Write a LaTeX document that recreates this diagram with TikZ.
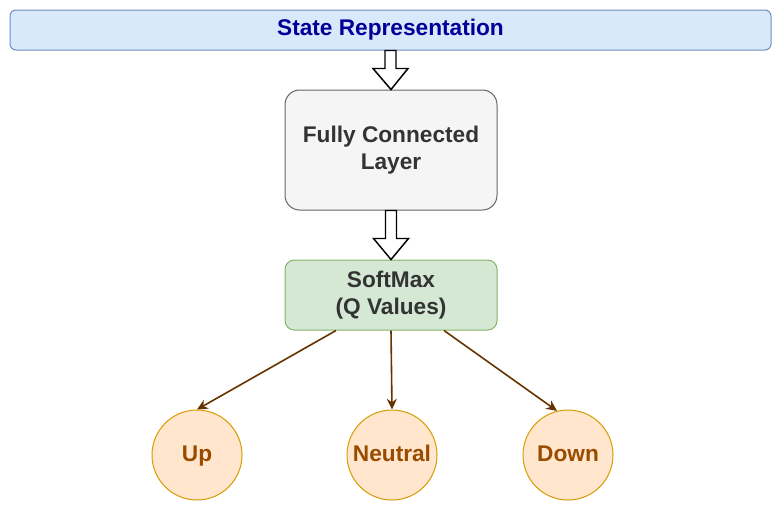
\documentclass[tikz,border=0pt]{standalone}
\usepackage{fontspec}
\setmainfont{Liberation Sans}
\usetikzlibrary{calc,arrows.meta}
\definecolor{stfill}{HTML}{DAE8FC}
\definecolor{stdraw}{HTML}{6C8EBF}
\definecolor{sttext}{HTML}{000099}
\definecolor{fcfill}{HTML}{F5F5F5}
\definecolor{fcdraw}{HTML}{666666}
\definecolor{gtext}{HTML}{333333}
\definecolor{smfill}{HTML}{D5E8D4}
\definecolor{smdraw}{HTML}{82B366}
\definecolor{cfill}{HTML}{FFE6CC}
\definecolor{cdraw}{HTML}{D79B00}
\definecolor{ctext}{HTML}{994C00}
\definecolor{conn}{HTML}{663300}
\tikzset{
  lbl/.style={font=\fontsize{17}{20}\selectfont\bfseries, align=center, inner sep=0pt},
  statebox/.style={lbl, draw=stdraw, fill=stfill, text=sttext, rounded corners=4.5pt, line width=0.75pt, minimum width=570.75pt, minimum height=30pt},
  fcbox/.style={lbl, draw=fcdraw, fill=fcfill, text=gtext, rounded corners=11pt, line width=0.75pt, minimum width=159pt, minimum height=90pt},
  smbox/.style={lbl, draw=smdraw, fill=smfill, text=gtext, rounded corners=7pt, line width=0.75pt, minimum width=159pt, minimum height=52.5pt},
  action/.style={lbl, circle, draw=cdraw, fill=cfill, text=ctext, line width=0.75pt, minimum size=67.5pt, text height=12.5pt, text depth=3.5pt},
  blockarrow/.style={draw=black, fill=white, line width=1.1pt, line join=miter},
  connarrow/.style={draw=conn, line width=1.2pt, -{Stealth[length=8pt,width=7.5pt]}}
}
\begin{document}
\begin{tikzpicture}[x=0.75pt,y=-0.75pt]
\useasboundingbox (0,0) rectangle (781,512);
\node[statebox] (state) at (390.5,30) {State Representation};
\node[fcbox] (fc) at (391,150) {Fully Connected\\Layer};
\node[smbox] (soft) at (391,295) {SoftMax\\(Q Values)};
\node[action] (up) at (197,455) {Up};
\node[action] (neutral) at (392,455) {Neutral};
\node[action] (down) at (568,455) {Down};
% block arrows
\draw[blockarrow] ($(state.south)+(-5.5,0)$) -- ($(state.south)+(5.5,0)$) -- ($(state.south)+(5.5,18)$) -- ($(state.south)+(17.5,18)$) -- (fc.north) -- ($(state.south)+(-17.5,18)$) -- ($(state.south)+(-5.5,18)$) -- cycle;
\draw[blockarrow] ($(fc.south)+(-5.5,0)$) -- ($(fc.south)+(5.5,0)$) -- ($(fc.south)+(5.5,28)$) -- ($(fc.south)+(17.5,28)$) -- (soft.north) -- ($(fc.south)+(-17.5,28)$) -- ($(fc.south)+(-5.5,28)$) -- cycle;
% connectors
\draw[connarrow] ($(soft.south)+(-55,0)$) -- (up.north);
\draw[connarrow] (soft.south) -- (neutral.north);
\draw[connarrow] ($(soft.south)+(53,0)$) -- (down.104);
\end{tikzpicture}
\end{document}
